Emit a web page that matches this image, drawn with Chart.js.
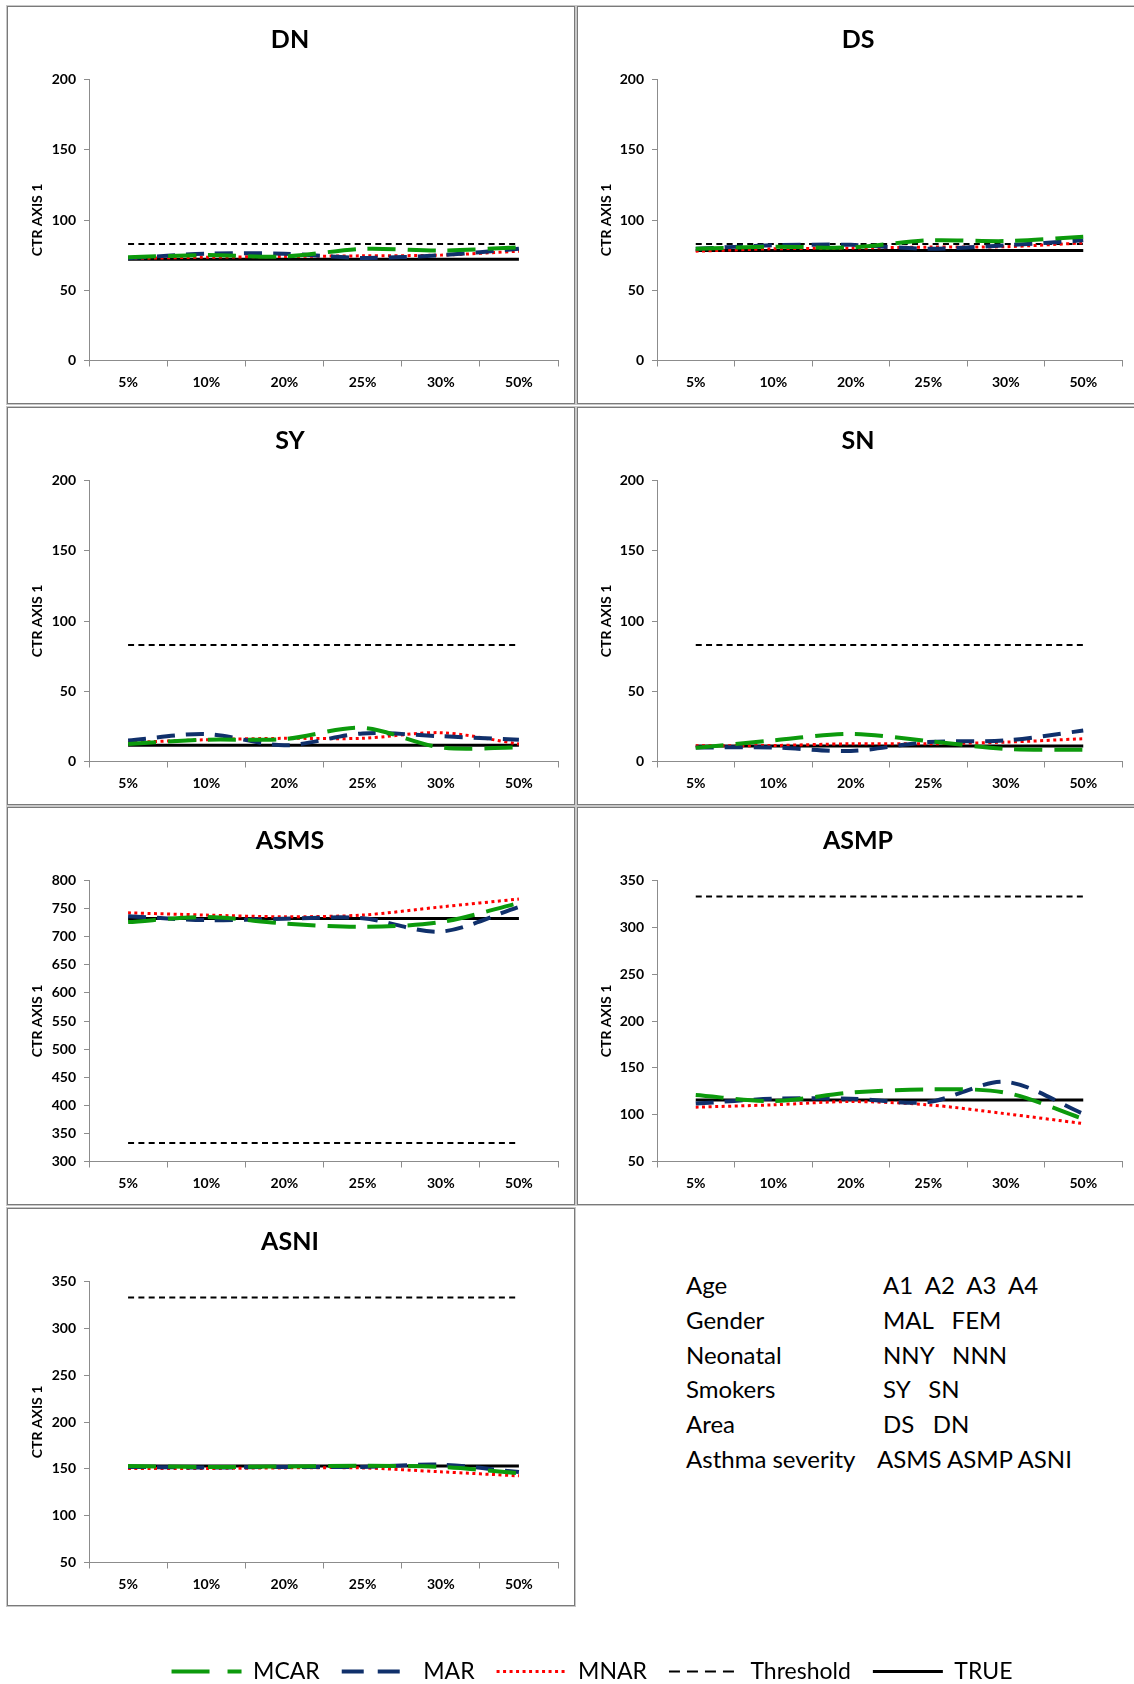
<!DOCTYPE html>
<html>
<head>
<meta charset="utf-8">
<script src="https://cdn.jsdelivr.net/npm/chart.js@4.4.1/dist/chart.umd.min.js"></script>
<style>
  body { margin: 0; width: 1134px; height: 1684px; overflow: hidden; position: relative; background: #fff; font-family: Lato, "Open Sans", sans-serif; }
  .frame { position: absolute; box-sizing: border-box; border: 1px solid #7a7a7a; box-shadow: 0 0 0 1px #c8c8c8; }
  canvas { position: absolute; }
  .key { position: absolute; font-size: 24px; line-height: 30px; color: #000; white-space: pre; }
</style>
</head>
<body>
<script>
const categories = ['5%', '10%', '20%', '25%', '30%', '50%'];

// DN
const dnMCAR = [73.5, 75, 74, 79.5, 78.3, 80.5];
const dnMAR = [72.8, 76, 76, 73, 75, 79.5];
const dnMNAR = [72.6, 73.5, 74, 74.5, 75, 77.8];
const dnThreshold = [83, 83, 83, 83, 83, 83];
const dnTrue = [72, 72, 72, 72, 72, 72];

// DS
const dsMCAR = [79.5, 81, 80.5, 85.5, 85, 88];
const dsMAR = [79.5, 82, 82.3, 79.5, 82, 85.5];
const dsMNAR = [77.8, 79.5, 80, 80.7, 81, 83.7];
const dsThreshold = [83, 83, 83, 83, 83, 83];
const dsTrue = [78.3, 78.3, 78.3, 78.3, 78.3, 78.3];

// SY
const syMCAR = [12.5, 15.5, 16, 24, 10, 10];
const syMAR = [15, 19.5, 11.5, 20, 18, 15.5];
const syMNAR = [13.5, 15.5, 16.5, 16.5, 20.5, 12.5];
const syThreshold = [83, 83, 83, 83, 83, 83];
const syTrue = [11.5, 11.5, 11.5, 11.5, 11.5, 11.5];

// SN
const snMCAR = [9.7, 15, 19.7, 14.5, 9, 8.3];
const snMAR = [10, 10, 7.5, 13.8, 15, 22];
const snMNAR = [11.2, 11.4, 12.6, 12.6, 13.8, 16.2];
const snThreshold = [83, 83, 83, 83, 83, 83];
const snTrue = [11, 11, 11, 11, 11, 11];

// ASMS
const asmsMCAR = [726, 735, 723.5, 717.5, 726, 760];
const asmsMAR = [736.5, 729.5, 732, 733, 709, 753];
const asmsMNAR = [742.5, 738.5, 735.5, 738.5, 753, 767];
const asmsThreshold = [333, 333, 333, 333, 333, 333];
const asmsTrue = [732.5, 732.5, 732.5, 732.5, 732.5, 732.5];

// ASMP
const asmpMCAR = [121, 114.5, 123.5, 127, 123.5, 95.5];
const asmpMAR = [111.8, 117, 117, 113.5, 135, 101];
const asmpMNAR = [108, 110.5, 114, 110.5, 101, 90.5];
const asmpThreshold = [333, 333, 333, 333, 333, 333];
const asmpTrue = [115.7, 115.7, 115.7, 115.7, 115.7, 115.7];

// ASNI
const asniMCAR = [153, 152, 152.5, 153.2, 152, 145.4];
const asniMAR = [152, 151.4, 152, 152, 154.5, 146.5];
const asniMNAR = [150.4, 150.4, 151, 151, 146.8, 142.5];
const asniThreshold = [333, 333, 333, 333, 333, 333];
const asniTrue = [153, 153, 153, 153, 153, 153];

const seriesNames = ['MCAR', 'MAR', 'MNAR', 'Threshold', 'TRUE'];

const panels = [
    { title: 'DN', col: 0, row: 0, min: 0, max: 200, series: [dnMCAR, dnMAR, dnMNAR, dnThreshold, dnTrue] },
    { title: 'DS', col: 1, row: 0, min: 0, max: 200, series: [dsMCAR, dsMAR, dsMNAR, dsThreshold, dsTrue] },
    { title: 'SY', col: 0, row: 1, min: 0, max: 200, series: [syMCAR, syMAR, syMNAR, syThreshold, syTrue] },
    { title: 'SN', col: 1, row: 1, min: 0, max: 200, series: [snMCAR, snMAR, snMNAR, snThreshold, snTrue] },
    { title: 'ASMS', col: 0, row: 2, min: 300, max: 800, series: [asmsMCAR, asmsMAR, asmsMNAR, asmsThreshold, asmsTrue] },
    { title: 'ASMP', col: 1, row: 2, min: 50, max: 350, series: [asmpMCAR, asmpMAR, asmpMNAR, asmpThreshold, asmpTrue] },
    { title: 'ASNI', col: 0, row: 3, min: 50, max: 350, series: [asniMCAR, asniMAR, asniMNAR, asniThreshold, asniTrue] }
];

const FONT = 'Lato, "Open Sans", sans-serif';
const AXIS = '#8c8c8c';

// line look for each series, same order as seriesNames
// keyDash = how the sample looks in the bottom legend (Excel draws it a bit longer there)
const lineStyles = [
    { color: '#0c9a0c', width: 4, dash: [28, 12], keyDash: [38, 18] },
    { color: '#10306b', width: 4, dash: [18, 11], keyDash: [22, 14] },
    { color: '#ff0000', width: 3, dash: [3, 3.5], keyDash: [3, 3.5] },
    { color: '#000000', width: 2, dash: [6, 4.3], keyDash: [11, 7] },
    { color: '#000000', width: 3, dash: [], keyDash: [] }
];

function makeDatasets(seriesList) {
    return seriesNames.map((name, i) => ({
        label: name,
        data: seriesList ? seriesList[i] : [],
        borderColor: lineStyles[i].color,
        backgroundColor: lineStyles[i].color,
        borderWidth: lineStyles[i].width,
        borderDash: lineStyles[i].dash,
        borderCapStyle: 'butt',
        pointRadius: 0,
        tension: i < 3 ? 0.3 : 0,
        fill: false
    }));
}

const rowTops = [6, 407, 807, 1208];

panels.forEach(p => {
    const left = p.col === 0;
    const x = left ? 7 : 577;
    const y = rowTops[p.row];
    const w = left ? 568 : 557;
    const h = 398;

    const frame = document.createElement('div');
    frame.className = 'frame';
    frame.style.left = x + 'px';
    frame.style.top = y + 'px';
    frame.style.width = (left ? 568 : 565) + 'px';
    frame.style.height = h + 'px';
    document.body.appendChild(frame);

    const canvas = document.createElement('canvas');
    canvas.width = w;
    canvas.height = h;
    canvas.style.left = x + 'px';
    canvas.style.top = y + 'px';
    document.body.appendChild(canvas);

    const padLeft = left ? 15 : 17;
    const yWidth = left ? 67 : 63;
    const plotRight = left ? 551 : 545;

    new Chart(canvas, {
        type: 'line',
        data: { labels: categories, datasets: makeDatasets(p.series) },
        options: {
            responsive: false,
            animation: false,
            devicePixelRatio: 1,
            layout: { padding: { left: padLeft, right: w - plotRight, top: 0, bottom: 3.5 } },
            plugins: {
                legend: { display: false },
                tooltip: { enabled: false },
                title: {
                    display: true,
                    text: p.title,
                    color: '#000',
                    font: { family: FONT, size: 25, weight: 'bold' },
                    padding: { top: 19, bottom: 24.5 }
                }
            },
            scales: {
                x: {
                    offset: true,
                    grid: { offset: true, drawOnChartArea: false, color: AXIS, tickLength: 6 },
                    border: { color: AXIS },
                    ticks: { color: '#000', font: { family: FONT, size: 14, weight: 'bold' }, padding: 8, maxRotation: 0, autoSkip: false },
                    afterFit: s => { s.height = 40; }
                },
                y: {
                    min: p.min,
                    max: p.max,
                    grid: { drawOnChartArea: false, color: AXIS, tickLength: 5 },
                    border: { color: AXIS },
                    ticks: { stepSize: 50, color: '#000', font: { family: FONT, size: 14, weight: 'bold' }, padding: 8 },
                    title: {
                        display: true,
                        text: 'CTR AXIS 1',
                        color: '#000',
                        font: { family: FONT, size: 14, weight: 'bold' },
                        padding: { top: left ? 7 : 4, bottom: 0 }
                    },
                    afterFit: s => { s.width = yWidth; }
                }
            }
        }
    });
});

// key text block (bottom right)
const keyRows = [
    ['Age', 'A1  A2  A3  A4', 883],
    ['Gender', 'MAL   FEM', 883],
    ['Neonatal', 'NNY   NNN', 883],
    ['Smokers', 'SY   SN', 883],
    ['Area', 'DS   DN', 883],
    ['Asthma severity', 'ASMS ASMP ASNI', 877]
];
keyRows.forEach((r, i) => {
    const cy = 1286 + i * 34.8;
    const a = document.createElement('div');
    a.className = 'key';
    a.textContent = r[0];
    a.style.left = '686px';
    a.style.top = (cy - 16) + 'px';
    document.body.appendChild(a);
    const b = document.createElement('div');
    b.className = 'key';
    b.textContent = r[1];
    b.style.left = r[2] + 'px';
    b.style.top = (cy - 16) + 'px';
    document.body.appendChild(b);
});

// shared legend at the bottom
const legendCanvas = document.createElement('canvas');
legendCanvas.width = 1134;
legendCanvas.height = 100;
legendCanvas.style.left = '0px';
legendCanvas.style.top = '1638px';
document.body.appendChild(legendCanvas);

new Chart(legendCanvas, {
    type: 'line',
    data: { labels: categories, datasets: makeDatasets(null) },
    options: {
        responsive: false,
        animation: false,
        devicePixelRatio: 1,
        layout: { padding: { left: 50, right: 0, top: 0, bottom: 0 } },
        scales: { x: { display: false }, y: { display: false } },
        plugins: {
            tooltip: { enabled: false },
            legend: {
                display: true,
                position: 'top',
                labels: {
                    usePointStyle: true,
                    pointStyleWidth: 70,
                    padding: 22,
                    color: '#000',
                    font: { family: FONT, size: 23 },
                    generateLabels: chart => chart.data.datasets.map((ds, i) => ({
                        text: ds.label,
                        fillStyle: ds.borderColor,
                        strokeStyle: ds.borderColor,
                        lineWidth: ds.borderWidth,
                        lineDash: lineStyles[i].keyDash,
                        lineCap: 'butt',
                        pointStyle: 'line',
                        fontColor: '#000',
                        hidden: false,
                        datasetIndex: i
                    }))
                }
            }
        }
    }
});
</script>
</body>
</html>
